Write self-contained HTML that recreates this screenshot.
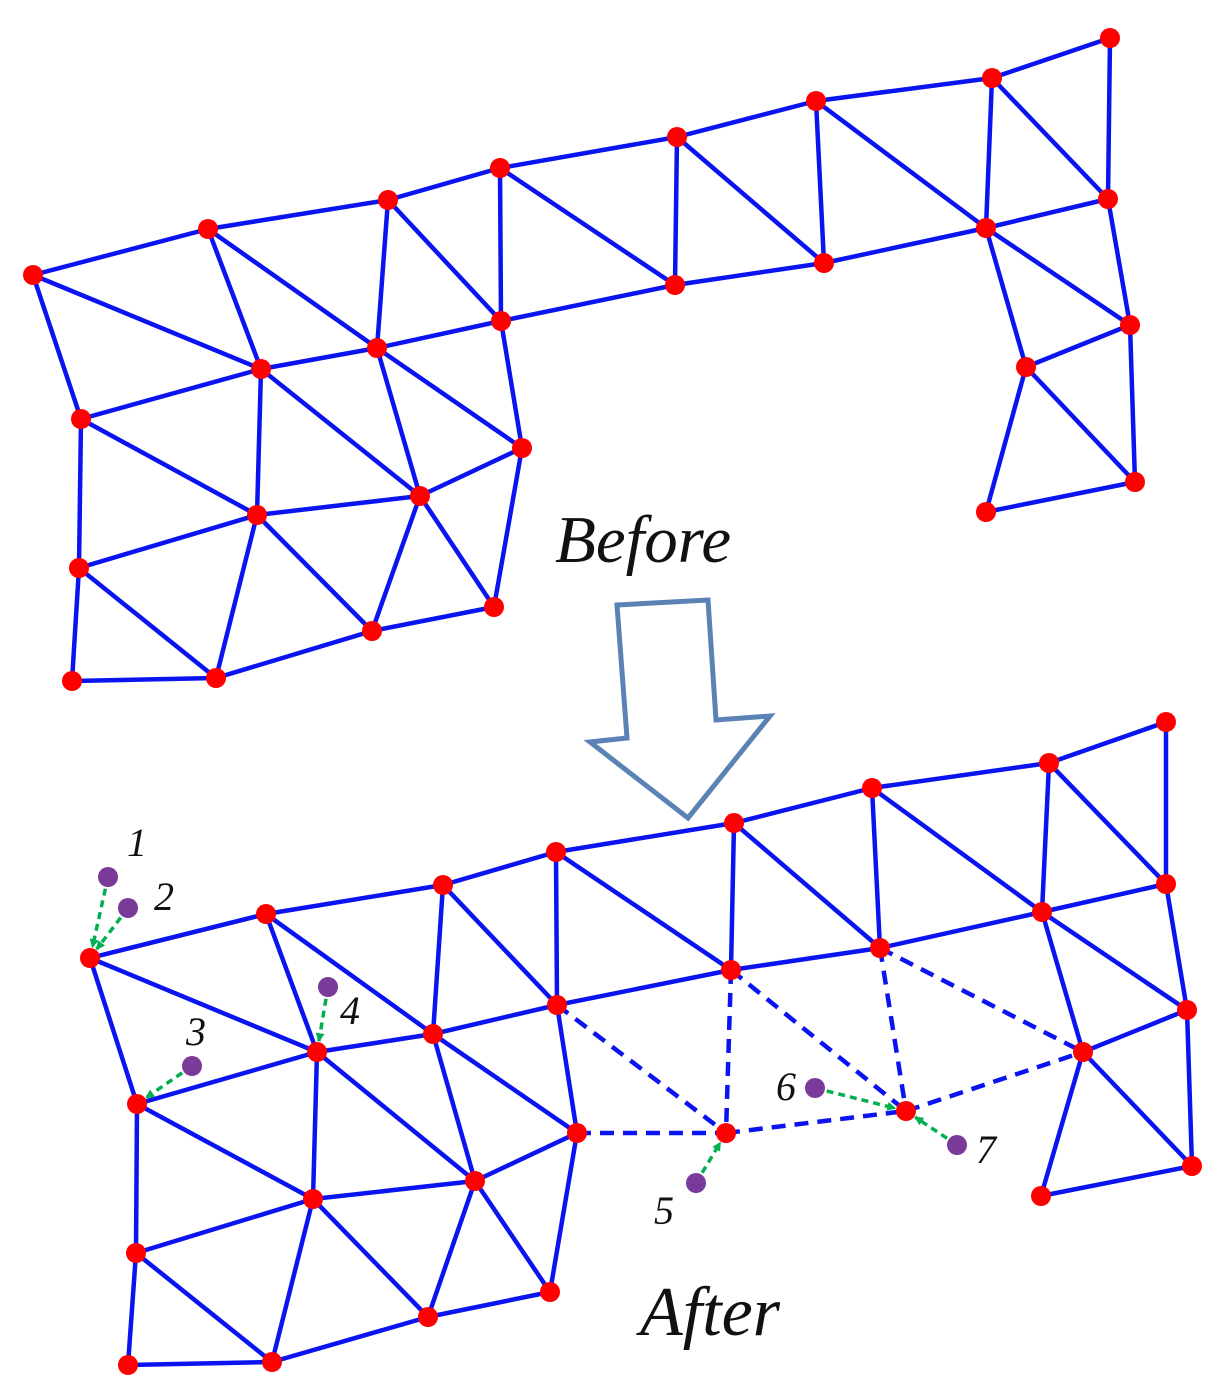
<!DOCTYPE html>
<html><head><meta charset="utf-8"><style>
html,body{margin:0;padding:0;background:#fff;}
svg{display:block;}
text{font-family:"Liberation Serif",serif;font-style:italic;fill:#111;}
</style></head><body>
<svg width="1224" height="1398" viewBox="0 0 1224 1398" xmlns="http://www.w3.org/2000/svg">
<defs>
<marker id="ga" markerWidth="9" markerHeight="9" refX="8" refY="4.5" orient="auto" markerUnits="userSpaceOnUse">
<path d="M0,0 L9,4.5 L0,9 Z" fill="#00b050"/>
</marker>
</defs>
<g id="top" stroke="#0a14f0" stroke-width="4.5" stroke-linecap="round"></g>
<g id="bot" stroke="#0a14f0" stroke-width="4.5" stroke-linecap="round"></g>
<g id="dash" stroke="#0a14f0" stroke-width="4.5" stroke-dasharray="14,9"></g>
<g id="green" stroke="#00b050" stroke-width="3.5" stroke-dasharray="7,5" fill="none"></g>
<g id="nodes" fill="#f00"></g>
<g id="purp" fill="#7a3a9a"></g>
<polygon points="617,605 708,600 716,720 770,716 688,818 590,742 627,738" fill="none" stroke="#5a82b4" stroke-width="5" stroke-linejoin="miter"/>
<text x="555" y="562" font-size="67">Before</text>
<text x="640" y="1335" font-size="70">After</text>
<text x="127" y="856" font-size="40">1</text>
<text x="154" y="910" font-size="40">2</text>
<text x="186" y="1045" font-size="40">3</text>
<text x="340" y="1024" font-size="40">4</text>
<text x="654" y="1224" font-size="40">5</text>
<text x="776" y="1100" font-size="40">6</text>
<text x="976" y="1163" font-size="40">7</text>
</svg>
<script>
var NS="http://www.w3.org/2000/svg";
function L(g,a,b){var l=document.createElementNS(NS,"line");l.setAttribute("x1",a[0]);l.setAttribute("y1",a[1]);l.setAttribute("x2",b[0]);l.setAttribute("y2",b[1]);document.getElementById(g).appendChild(l);}
function C(g,p,r){var c=document.createElementNS(NS,"circle");c.setAttribute("cx",p[0]);c.setAttribute("cy",p[1]);c.setAttribute("r",r);document.getElementById(g).appendChild(c);}
var E=[[1,2],[2,3],[3,4],[4,5],[5,6],[6,7],[7,8],[1,16],[1,15],[2,15],[2,14],[3,14],[3,13],[4,13],[5,12],[4,12],[6,11],[5,11],[7,10],[6,10],[8,9],[7,9],[10,9],[11,10],[12,11],[13,12],[14,13],[15,14],[16,15],[13,17],[14,17],[14,18],[15,18],[15,19],[16,19],[16,20],[20,19],[19,18],[18,17],[17,21],[18,21],[18,22],[19,22],[19,23],[20,23],[20,24],[24,23],[23,22],[22,21],[10,26],[10,25],[9,25],[26,25],[26,28],[26,27],[25,27],[28,27]];
var A={1:[33,275],2:[208,229],3:[388,200],4:[500,168],5:[677,137],6:[816,101],7:[992,78],8:[1110,38],9:[1108,199],10:[986,228],11:[824,263],12:[675,285],13:[501,321],14:[377,348],15:[261,369],16:[81,419],17:[522,448],18:[420,496],19:[257,515],20:[79,568],21:[494,607],22:[372,631],23:[216,678],24:[72,681],25:[1130,325],26:[1026,367],27:[1135,482],28:[986,512]};
var B={1:[90,958],2:[266,914],3:[443,885],4:[556,852],5:[734,823],6:[872,788],7:[1049,763],8:[1166,722],9:[1166,884],10:[1042,912],11:[880,948],12:[731,970],13:[557,1005],14:[433,1034],15:[317,1052],16:[137,1104],17:[577,1133],18:[475,1181],19:[313,1199],20:[136,1253],21:[550,1292],22:[428,1317],23:[272,1362],24:[128,1365],25:[1187,1010],26:[1083,1052],27:[1192,1166],28:[1041,1196],29:[726,1133],30:[906,1111]};
E.forEach(function(e){L("top",A[e[0]],A[e[1]]);L("bot",B[e[0]],B[e[1]]);});
[[17,29],[13,29],[12,29],[12,30],[11,30],[11,26],[29,30],[30,26]].forEach(function(e){L("dash",B[e[0]],B[e[1]]);});
var P=[[108,877,1],[128,908,1],[192,1066,16],[328,987,15],[696,1183,29],[815,1088,30],[957,1145,30]];
P.forEach(function(p){var t=B[p[2]],dx=t[0]-p[0],dy=t[1]-p[1],d=Math.sqrt(dx*dx+dy*dy),s=(d-11)/d;
var l=document.createElementNS(NS,"line");l.setAttribute("x1",p[0]);l.setAttribute("y1",p[1]);l.setAttribute("x2",p[0]+dx*s);l.setAttribute("y2",p[1]+dy*s);l.setAttribute("marker-end","url(#ga)");document.getElementById("green").appendChild(l);C("purp",[p[0],p[1]],10);});
for(var k in A)C("nodes",A[k],10);
for(var k in B)C("nodes",B[k],10);
</script>
</body></html>
